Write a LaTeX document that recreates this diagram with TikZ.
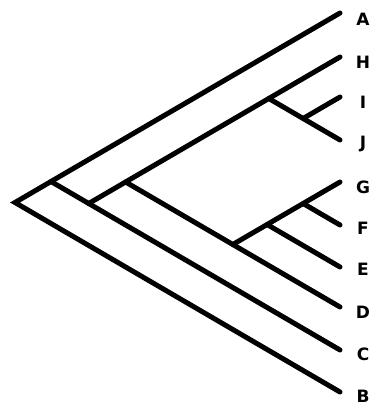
\documentclass[tikz,border=0pt]{standalone}
\usepackage{fontspec}
\setmainfont{DejaVu Sans}
\begin{document}
\begin{tikzpicture}[x=1pt,y=-1pt,
  branch/.style={line width=5pt,line cap=round,line join=miter,black},
  taxon/.style={anchor=center,inner sep=0pt,font=\fontsize{17}{19}\selectfont\bfseries}]
\useasboundingbox (0,0) rectangle (380,406);
% tips
\coordinate (tA) at (340,13);
\coordinate (tH) at (340,57);
\coordinate (tI) at (340,97);
\coordinate (tJ) at (340,140);
\coordinate (tG) at (340,182);
\coordinate (tF) at (340,225);
\coordinate (tE) at (340,267);
\coordinate (tD) at (340,307);
\coordinate (tC) at (340,350);
\coordinate (tB) at (340,392);
% internal nodes
\coordinate (root) at (15,202.5);
\coordinate (nC) at (51,181.5);
\coordinate (nH) at (88.7,203.5);
\coordinate (nD) at (125.6,182);
\coordinate (nJ) at (268.8,98.5);
\coordinate (nI) at (303.1,118.5);
\coordinate (nG) at (232.8,244.5);
\coordinate (nE) at (267.1,224.5);
\coordinate (nF) at (303.1,203.5);
% branches
\draw[branch] (tA) -- (root) -- (tB);
\draw[branch] (nC) -- (tC);
\draw[branch] (nH) -- (tH);
\draw[branch] (nD) -- (tD);
\draw[branch] (nJ) -- (tJ);
\draw[branch] (nI) -- (tI);
\draw[branch] (nG) -- (tG);
\draw[branch] (nE) -- (tE);
\draw[branch] (nF) -- (tF);
% labels
\node[taxon] (lA) at (363,19) {A};
\node[taxon] (lH) at (363,62) {H};
\node[taxon] (lI) at (363,102) {I};
\node[taxon] (lJ) at (363,144) {J};
\node[taxon] (lG) at (363,187) {G};
\node[taxon] (lF) at (363,228) {F};
\node[taxon] (lE) at (363,269) {E};
\node[taxon] (lD) at (363,312) {D};
\node[taxon] (lC) at (363,354) {C};
\node[taxon] (lB) at (363,396) {B};
\end{tikzpicture}
\end{document}
